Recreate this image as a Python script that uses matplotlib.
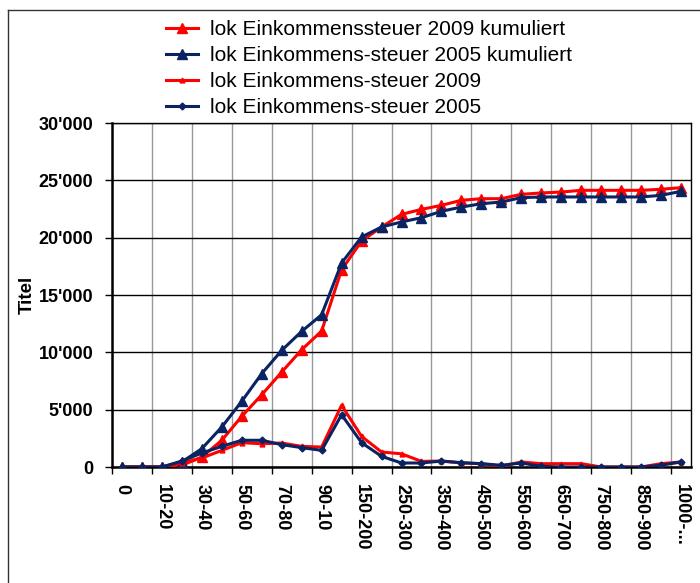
import matplotlib.pyplot as plt
from matplotlib.ticker import FuncFormatter
from matplotlib.lines import Line2D

plt.rcParams['font.family'] = ['Liberation Sans', 'DejaVu Sans']

# Kategorien (Einkommensklassen)
kategorien = ['0', '0-10', '10-20', '20-30', '30-40', '40-50', '50-60', '60-70',
              '70-80', '80-90', '90-10', '100-150', '150-200', '200-250', '250-300',
              '300-350', '350-400', '400-450', '450-500', '500-550', '550-600',
              '600-650', '650-700', '700-750', '750-800', '800-850', '850-900',
              '900-1000', '1000-...']

kum_2009 = [0, 0, 0, 150, 870, 2330, 4420, 6300, 8280, 10230, 11860, 17200, 19700,
            20930, 22030, 22470, 22820, 23260, 23400, 23400, 23780, 23900, 23980,
            24130, 24130, 24130, 24130, 24220, 24360]
kum_2005 = [0, 0, 0, 440, 1600, 3490, 5730, 8140, 10170, 11830, 13280, 17790, 20060,
            20930, 21370, 21740, 22300, 22670, 22960, 23110, 23490, 23550, 23550,
            23550, 23550, 23550, 23550, 23690, 24040]
steuer_2009 = [0, 0, 0, 350, 780, 1450, 2120, 2030, 2090, 1800, 1740, 5380, 2670,
               1310, 1150, 490, 520, 350, 290, 60, 440, 290, 290, 290, 0, 0, 0, 290, 440]
steuer_2005 = [0, 0, 0, 520, 1220, 1800, 2330, 2330, 1950, 1690, 1450, 4560, 2120,
               930, 350, 350, 520, 380, 290, 150, 350, 60, 0, 0, 0, 0, 0, 150, 440]

rot = '#FF0000'
blau = '#0A2463'

fig = plt.figure(figsize=(7, 5.83), dpi=100)
ax = fig.add_axes([112 / 700, 1 - 467 / 583, (691 - 112) / 700, (467 - 123) / 583])

x = list(range(len(kategorien)))
ax.plot(x, kum_2009, color=rot, lw=2.2, marker='^', ms=7, label='lok Einkommenssteuer 2009 kumuliert', zorder=3)
ax.plot(x, kum_2005, color=blau, lw=2.2, marker='^', ms=7, label='lok Einkommens-steuer 2005 kumuliert', zorder=3)
ax.plot(x, steuer_2009, color=rot, lw=2.2, marker='^', ms=3.5, label='lok Einkommens-steuer 2009', zorder=3)
ax.plot(x, steuer_2005, color=blau, lw=2.2, marker='D', ms=3.5, label='lok Einkommens-steuer 2005', zorder=3)

ax.set_xlim(-0.5, len(kategorien) - 0.5)
ax.set_ylim(0, 30000)
ax.set_yticks(range(0, 30001, 5000))
ax.yaxis.set_major_formatter(FuncFormatter(lambda v, p: f"{int(v):,}".replace(',', "'")))
ax.tick_params(axis='y', labelsize=13, direction='out', length=5, width=1, pad=8.5)
for t in ax.get_yticklabels():
    t.set_fontweight('bold')

# x-Beschriftung: jede zweite Kategorie, Striche dazwischen
ax.set_xticks(x[::2])
ax.set_xticklabels(kategorien[::2], rotation=270, fontsize=13, fontweight='bold')
ax.tick_params(axis='x', length=0, pad=12)
grenzen = [i - 0.5 for i in range(0, len(kategorien), 2)]
ax.set_xticks(grenzen, minor=True)
ax.tick_params(axis='x', which='minor', length=5, width=1, direction='out')
ax.grid(True, axis='x', which='minor', color='#999999', lw=1)
ax.grid(True, axis='y', color='black', lw=1)
ax.set_axisbelow(True)
for s in ax.spines.values():
    s.set_linewidth(1)
ax.spines['left'].set_linewidth(1.8)
ax.spines['bottom'].set_linewidth(1.8)

ax.set_ylabel('Titel', fontsize=13.5, fontweight='bold')
ax.yaxis.set_label_coords(-0.132, 0.5)

fig.legend(loc='upper left', bbox_to_anchor=(166 / 700, 1 - 20 / 583), frameon=False,
           fontsize=15, handlelength=1.55, handletextpad=0.55, labelspacing=0.34,
           borderaxespad=0, borderpad=0)

# Rahmen der Grafik (rechts und unten abgeschnitten)
fig.add_artist(Line2D([8 / 700, 8 / 700], [0, 1 - 10 / 583], transform=fig.transFigure, color='#333333', lw=1))
fig.add_artist(Line2D([8 / 700, 1], [1 - 10 / 583, 1 - 10 / 583], transform=fig.transFigure, color='#333333', lw=1))

fig.savefig('out.png', dpi=100)
